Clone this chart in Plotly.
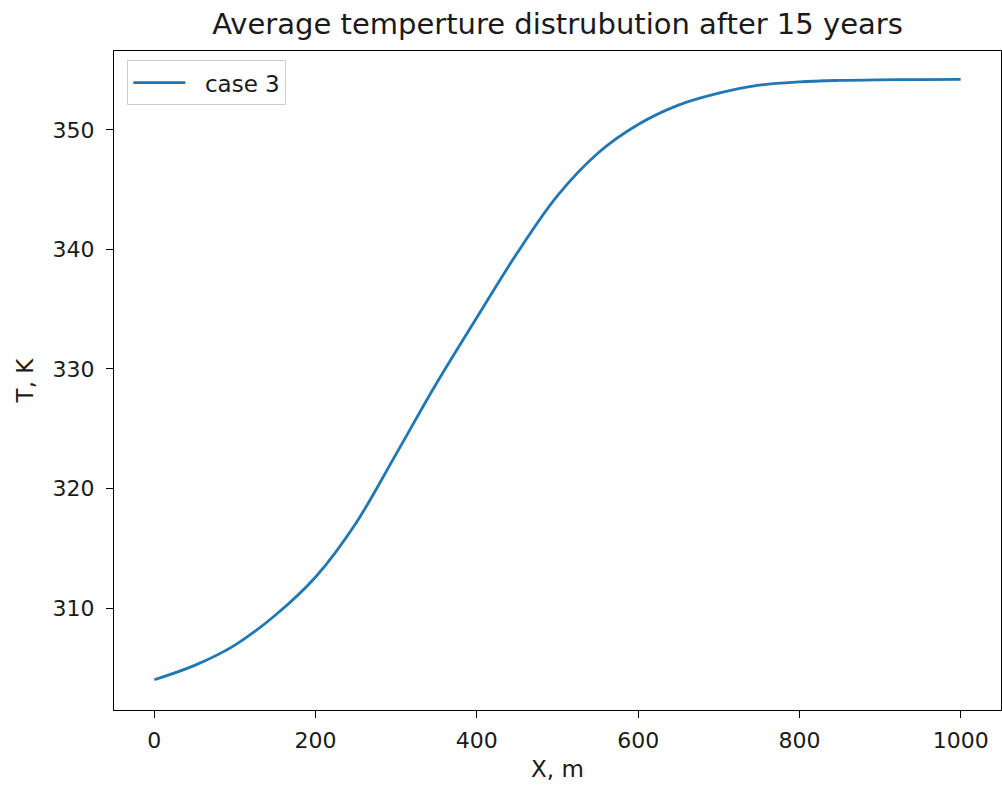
import plotly.graph_objects as go

x_m = [0, 50, 100, 150, 200, 250, 300, 350, 400, 450, 500,
       550, 600, 650, 700, 750, 800, 850, 900, 950, 1000]
temp_K = [304.0, 305.2, 306.9, 309.4, 312.6, 317.1, 322.9, 328.8, 334.3, 339.7, 344.5,
          348.05, 350.45, 352.07, 353.07, 353.74, 354.02, 354.14, 354.19, 354.21, 354.22]
series_name = "case 3"
x_ticks = [0, 200, 400, 600, 800, 1000]
y_ticks = [310, 320, 330, 340, 350]

FONT = "DejaVu Sans"
TXT = "#1a1a1a"
fig = go.Figure()
fig.add_trace(go.Scatter(x=x_m, y=temp_K, mode="lines", name="\u00a0\u00a0" + series_name,
                         line=dict(color="#1f77b4", width=2.8, shape="spline", smoothing=1.0)))

axis_common = dict(showline=True, linecolor="black", linewidth=1.4, mirror=True,
                   ticks="outside", ticklen=7, tickwidth=1.4, tickcolor="black",
                   showgrid=False, zeroline=False,
                   tickfont=dict(family=FONT, size=22, color=TXT))

fig.update_layout(
    width=1002, height=792,
    margin=dict(l=114, r=1, t=51, b=82),
    paper_bgcolor="white", plot_bgcolor="white",
    font=dict(family=FONT, color=TXT),
    title=dict(text="Average temperture distrubution after 15 years",
               font=dict(family=FONT, size=29, color=TXT),
               x=557.5/1002, xref="container", xanchor="center",
               y=1-24/792, yref="container", yanchor="middle"),
    xaxis=dict(range=[-50, 1050], tickvals=x_ticks, ticklabelstandoff=3,
               title=dict(text="X, m", font=dict(family=FONT, size=23, color=TXT), standoff=9),
               **axis_common),
    yaxis=dict(range=[301.47, 356.6], tickvals=y_ticks, ticklabelstandoff=7,
               title=dict(text="T, K", font=dict(family=FONT, size=23, color=TXT), standoff=12),
               **axis_common),
    legend=dict(x=0.015, y=0.986, xanchor="left", yanchor="top",
                bgcolor="rgba(255,255,255,0.8)", bordercolor="#cccccc", borderwidth=1,
                font=dict(family=FONT, size=23, color=TXT), itemwidth=52),
    showlegend=True,
)

fig.write_html("out.html")
